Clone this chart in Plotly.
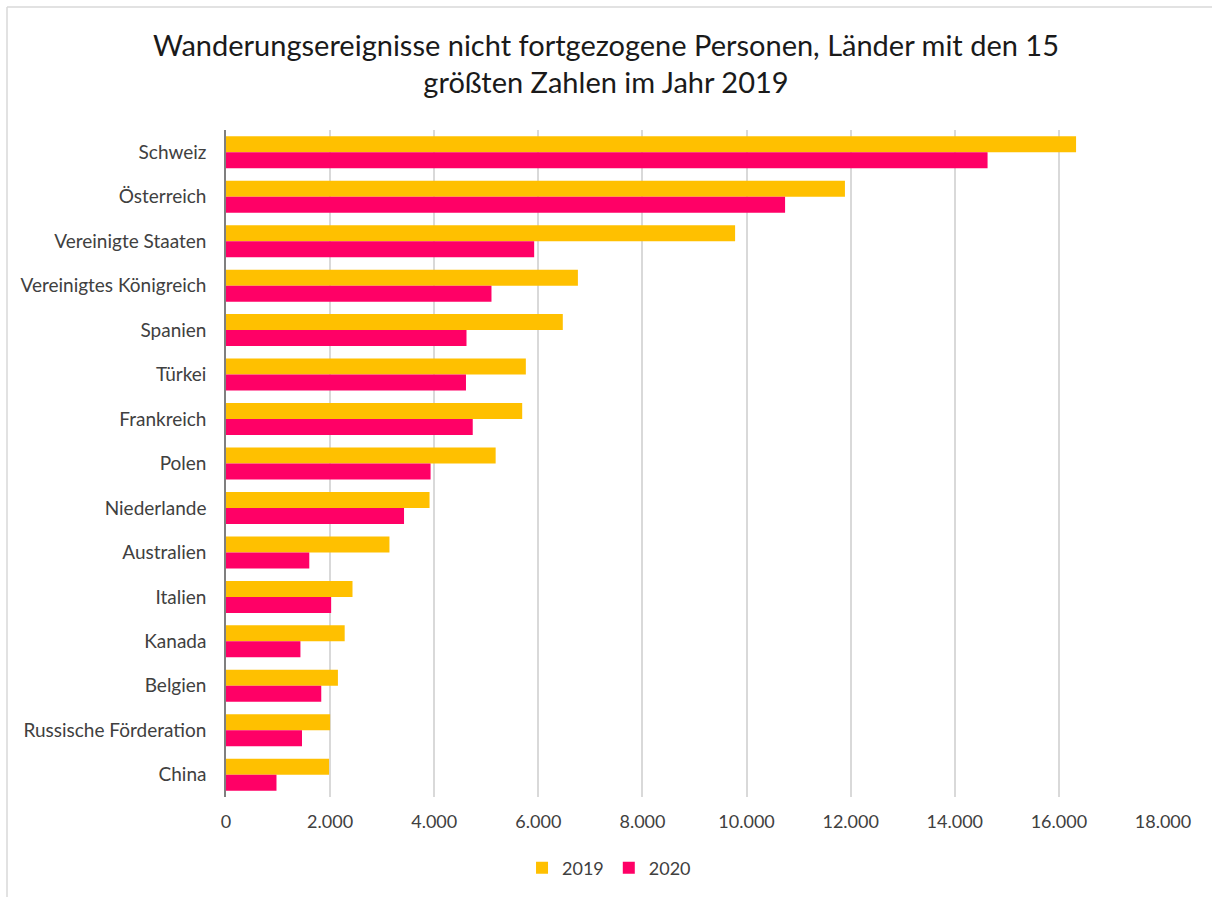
import plotly.graph_objects as go

countries = ["Schweiz", "Österreich", "Vereinigte Staaten", "Vereinigtes Königreich",
             "Spanien", "Türkei", "Frankreich", "Polen", "Niederlande", "Australien",
             "Italien", "Kanada", "Belgien", "Russische Förderation", "China"]
values_2019 = [16330, 11890, 9780, 6760, 6470, 5760, 5690, 5180, 3910, 3140,
               2430, 2280, 2150, 2000, 1980]
values_2020 = [14630, 10740, 5920, 5100, 4620, 4610, 4740, 3930, 3420, 1600,
               2020, 1430, 1830, 1460, 970]
tick_vals = [0, 2000, 4000, 6000, 8000, 10000, 12000, 14000, 16000, 18000]
tick_text = ["0", "2.000", "4.000", "6.000", "8.000", "10.000", "12.000", "14.000", "16.000", "18.000"]

FONT = "Lato"
W, H = 1212, 897
L, R, T, B = 226, 49, 130, 100
PW, PH = W - L - R, H - T - B

fig = go.Figure()
fig.add_trace(go.Bar(name="2019", y=countries, x=values_2019, orientation="h",
                     marker=dict(color="#FFC000", line=dict(width=0))))
fig.add_trace(go.Bar(name="2020", y=countries, x=values_2020, orientation="h",
                     marker=dict(color="#FF0066", line=dict(width=0))))

fig.update_layout(
    width=W, height=H,
    paper_bgcolor="white", plot_bgcolor="white",
    barmode="group", bargap=0.28, bargroupgap=0,
    margin=dict(l=L, r=R, t=T, b=B, autoexpand=False),
    font=dict(family=FONT, color="#404040", size=18),
    title=dict(text="Wanderungsereignisse nicht fortgezogene Personen, Länder mit den 15<br>größten Zahlen im Jahr 2019",
               x=0.5, xanchor="center", y=0.938, yanchor="middle",
               font=dict(family=FONT, size=29, color="#1a1a1a")),
    legend=dict(orientation="h", xref="container", yref="container",
                x=0.5025, xanchor="center", y=0.0323, yanchor="middle",
                font=dict(size=18, color="#404040"), traceorder="normal",
                itemwidth=30),
    xaxis=dict(range=[0, 18000], tickvals=tick_vals, ticktext=tick_text,
               showgrid=True, gridcolor="#D9D9D9", gridwidth=1.5, zeroline=False,
               showline=False, ticks="", ticklabelstandoff=12, automargin=False,
               tickfont=dict(size=18, color="#404040")),
    yaxis=dict(autorange="reversed", showgrid=False, showline=True, linecolor="#7f7f7f",
               linewidth=1.5, ticks="", ticklabelstandoff=14, automargin=False,
               tickfont=dict(size=19, color="#404040")),
)

bx = (7 - L) / PW
by = 1 + (T - 7) / PH
fig.add_shape(type="line", xref="paper", yref="paper", x0=bx, x1=(W - L) / PW,
              y0=by, y1=by, line=dict(color="#D9D9D9", width=1.5))
fig.add_shape(type="line", xref="paper", yref="paper", x0=bx, x1=bx,
              y0=by, y1=-B / PH, line=dict(color="#D9D9D9", width=1.5))

fig.write_html("out.html", config={"displayModeBar": False},
               post_script="document.body.style.margin='0';document.body.style.overflow='hidden';")
